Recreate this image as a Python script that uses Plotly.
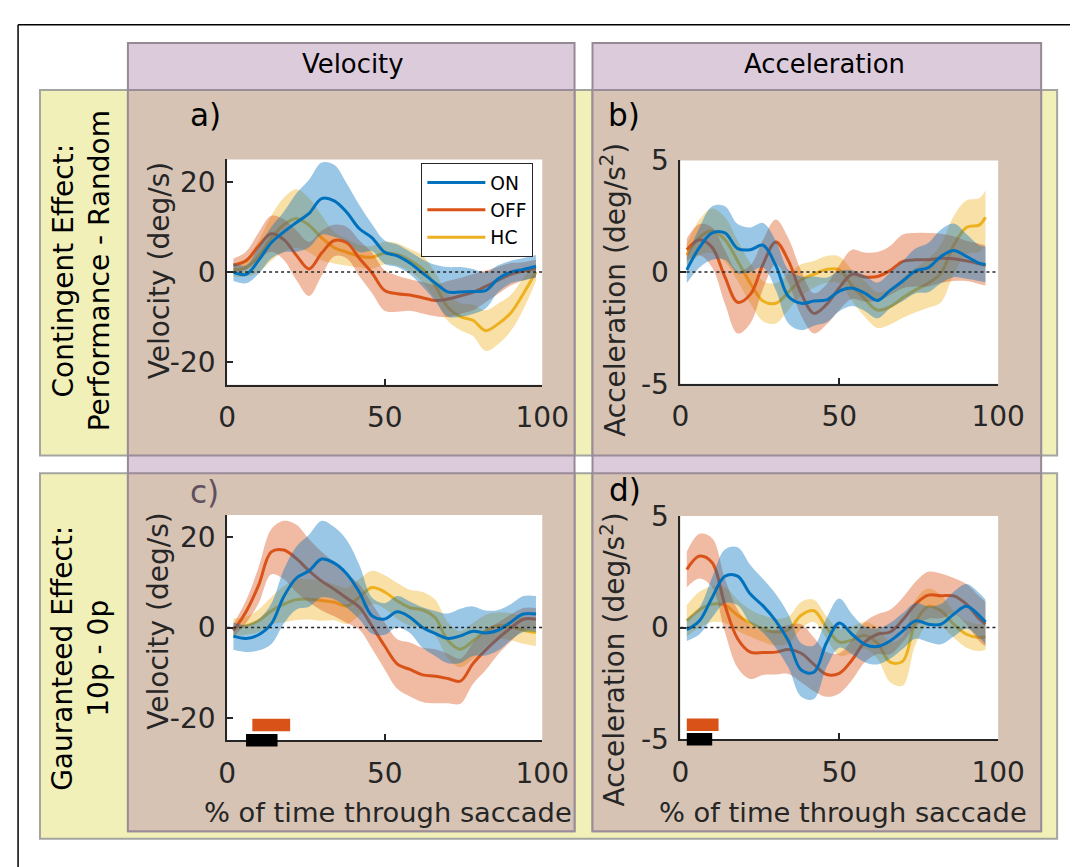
import plotly.graph_objects as go

W, H = 1078, 867
# the photographed page comes out slightly scaled and shifted, so layout positions
# below are given in picture pixels and converted back to figure pixels
SX, SY, DX, DY = 0.968, 0.961, 16, 24
FW, FH = round((W - DX) / SX), round((H - DY) / SY)
S = (SX + SY) / 2

# x positions (% of saccade) at which the curves were read
x_vel = [2, 6, 10, 14, 18, 22, 26, 30, 34, 38, 42, 46, 50, 54, 58, 62, 66, 70, 74, 78, 82, 86, 90, 94, 98]
x_acc = [2, 6, 10, 14, 18, 22, 26, 30, 34, 38, 42, 46, 50, 54, 58, 62, 66, 70, 74, 78, 82, 86, 90, 94, 96]

# a) velocity, contingent effect
a_on_mean = [0.0, -0.5, 2.6, 6.5, 8.9, 11.0, 13.0, 16.3, 15.8, 13.2, 9.6, 7.6, 4.4, 3.6, 2.0, -0.2, -2.4, -4.4, -4.4, -4.3, -4.1, -1.5, 0.0, 0.6, 1.3]
a_on_sem = [2.0, 2.0, 3.0, 3.5, 4.5, 6.5, 7.5, 8.0, 8.0, 6.4, 5.2, 3.0, 2.6, 2.5, 2.5, 3.0, 4.0, 5.5, 5.5, 5.0, 4.0, 3.0, 2.5, 2.5, 2.5]
a_off_mean = [1.5, 2.5, 5.8, 8.5, 7.2, 3.7, 0.7, 4.2, 7.0, 6.5, 3.0, -0.2, -4.1, -4.8, -5.1, -5.7, -6.3, -6.0, -5.3, -4.5, -3.2, -1.8, -0.5, 0.2, 0.8]
a_off_sem = [1.5, 2.0, 3.0, 4.0, 4.5, 5.5, 6.0, 5.0, 3.5, 3.5, 4.0, 4.5, 4.5, 4.0, 3.5, 3.5, 3.5, 4.0, 4.0, 4.0, 3.5, 3.0, 2.5, 2.0, 2.0]
a_hc_mean = [0.5, 1.0, 3.5, 7.5, 10.5, 11.9, 10.4, 7.6, 5.4, 4.4, 3.5, 3.3, 4.2, 3.9, 2.6, 0.7, -3.0, -7.8, -9.9, -10.7, -13.0, -11.5, -9.1, -4.8, 0.0]
a_hc_sem = [1.5, 2.0, 3.5, 5.0, 6.0, 6.5, 6.0, 5.0, 3.5, 3.0, 2.5, 2.5, 2.5, 2.5, 2.5, 3.0, 3.0, 3.0, 3.0, 3.5, 4.5, 4.5, 4.0, 3.5, 2.0]

# b) acceleration, contingent effect
b_on_mean = [0.1, 1.1, 1.75, 1.75, 1.05, 1.0, 1.2, 0.3, -1.1, -1.4, -1.3, -1.25, -0.85, -0.72, -0.94, -1.27, -0.82, -0.4, 0.05, 0.2, 0.7, 0.97, 0.7, 0.4, 0.34]
b_on_sem = [0.6, 0.9, 1.2, 1.2, 1.1, 1.0, 1.0, 1.1, 1.2, 1.2, 1.1, 1.0, 0.9, 0.8, 0.8, 0.8, 0.8, 0.9, 1.0, 1.1, 1.2, 1.2, 1.0, 0.8, 0.8]
b_off_mean = [1.0, 1.45, 1.1, -0.22, -1.35, -1.0, 0.35, 1.35, 0.5, -0.95, -1.85, -1.45, -0.7, -0.1, -0.22, -0.2, 0.07, 0.48, 0.55, 0.55, 0.62, 0.6, 0.5, 0.37, 0.3]
b_off_sem = [0.5, 0.7, 0.9, 1.2, 1.4, 1.3, 1.1, 1.0, 1.0, 1.0, 0.9, 0.9, 1.0, 1.1, 1.1, 1.1, 1.1, 1.2, 1.2, 1.2, 1.1, 1.0, 0.9, 0.9, 0.9]
b_hc_mean = [0.75, 1.55, 1.85, 1.45, 0.5, -0.5, -1.3, -1.4, -0.9, -0.35, -0.1, 0.12, 0.1, -0.6, -1.2, -1.7, -1.55, -1.15, -0.8, -0.5, -0.05, 1.2, 2.0, 2.1, 2.45]
b_hc_sem = [0.5, 0.8, 1.0, 1.0, 0.9, 0.9, 0.9, 0.9, 0.8, 0.7, 0.6, 0.6, 0.6, 0.7, 0.8, 0.8, 0.8, 0.9, 1.0, 1.1, 1.3, 1.3, 1.2, 1.2, 1.2]

# c) velocity, guaranteed effect
c_on_mean = [-1.9, -2.4, -1.6, 0.8, 6.9, 11.0, 12.6, 15.2, 14.3, 11.9, 7.8, 2.6, 1.9, 3.5, 2.3, 0.0, -1.3, -2.4, -1.85, -0.8, -1.2, -0.6, 1.2, 3.0, 3.0]
c_on_sem = [3.0, 3.0, 3.5, 4.5, 6.0, 7.0, 8.0, 8.5, 8.0, 7.5, 6.0, 4.0, 3.5, 3.5, 3.5, 4.5, 5.0, 5.5, 6.0, 5.5, 5.0, 4.5, 4.0, 4.0, 4.0]
c_off_mean = [-0.7, 3.5, 9.4, 16.8, 17.2, 15.3, 12.6, 10.3, 8.5, 6.5, 4.5, 0.3, -4.1, -8.1, -9.3, -10.5, -10.8, -11.3, -11.9, -8.0, -5.0, -2.4, -0.1, 1.85, 1.85]
c_off_sem = [1.5, 2.5, 4.0, 5.0, 6.5, 7.5, 7.0, 6.5, 6.0, 5.5, 5.0, 5.0, 5.2, 5.5, 6.0, 6.0, 6.0, 5.5, 5.0, 4.5, 4.5, 3.5, 3.0, 2.5, 2.5]
c_hc_mean = [0.0, 0.4, 1.5, 3.7, 5.2, 6.2, 6.3, 6.0, 5.6, 4.8, 6.8, 8.9, 7.9, 5.9, 4.4, 3.9, 2.2, -2.8, -4.8, -3.0, -0.7, 0.4, 0.2, -0.6, -1.1]
c_hc_sem = [2.0, 2.0, 2.5, 3.0, 4.0, 4.5, 4.5, 4.5, 4.0, 4.0, 4.0, 3.7, 3.7, 4.0, 4.0, 4.0, 4.0, 4.0, 4.0, 4.0, 3.5, 3.0, 3.0, 3.0, 3.0]

# d) acceleration, guaranteed effect
d_on_mean = [-0.1, 0.3, 1.35, 2.3, 2.3, 1.5, 0.97, 0.3, -0.6, -1.9, -2.0, -0.67, 0.2, -0.3, -0.75, -0.85, -0.6, -0.15, 0.3, 0.15, 0.15, 0.6, 0.95, 0.55, 0.25]
d_on_sem = [0.5, 0.6, 0.9, 1.2, 1.3, 1.3, 1.2, 1.2, 1.2, 1.2, 1.2, 1.1, 1.1, 0.9, 0.8, 0.8, 0.8, 0.8, 0.8, 0.8, 0.9, 1.0, 1.0, 1.0, 1.0]
d_off_mean = [2.6, 3.2, 2.9, 1.0, -0.5, -1.1, -1.12, -1.1, -0.98, -1.15, -1.65, -2.1, -2.05, -1.45, -0.65, -0.3, -0.2, 0.35, 1.05, 1.45, 1.42, 1.42, 1.05, 0.4, 0.15]
d_off_sem = [0.8, 1.0, 1.1, 1.2, 1.3, 1.2, 1.0, 1.0, 1.1, 1.3, 1.2, 1.0, 0.9, 0.9, 0.9, 0.9, 1.0, 1.0, 1.0, 1.05, 1.0, 0.8, 0.9, 1.0, 1.0]
d_hc_mean = [0.3, 0.8, 1.05, 1.0, 0.55, 0.2, -0.05, -0.2, -0.1, 0.55, 0.75, 0.0, -0.65, -0.55, -0.35, -0.7, -1.55, -1.5, 0.25, 0.95, 0.75, 0.15, -0.3, -0.45, -0.4]
d_hc_sem = [0.7, 0.8, 0.8, 0.8, 0.7, 0.6, 0.6, 0.6, 0.6, 0.6, 0.5, 0.5, 0.6, 0.6, 0.6, 0.7, 0.9, 1.1, 1.0, 0.8, 0.7, 0.6, 0.6, 0.6, 0.6]

# significant clusters (x start, x end) and the level they are drawn at
c_sig_off = [8, 20]
c_sig_all = [6, 16]
c_sig_levels = [-21.6, -25]
d_sig_off = [2, 12]
d_sig_all = [2, 10]
d_sig_levels = [-4.35, -5]

vel_ticks = [-20, 0, 20]
acc_ticks = [-5, 0, 5]
x_ticks = [0, 50, 100]
zero_x = [0, 100]

ON, OFF, HC = "#0072BD", "#D95319", "#EDB120"
ON_F, OFF_F, HC_F = "rgba(0,114,189,0.4)", "rgba(217,83,25,0.4)", "rgba(237,177,32,0.4)"
INK = "#262626"
FONT = "DejaVu Sans"


def px(x):
    return (x - DX) / SX / FW


def py(y):
    return 1 - (y - DY) / SY / FH


def fs(size):
    return round(size / S, 1)


fig = go.Figure()


def add_group(n, xs, mean, sem, color, fill, name, rank):
    xa, ya = ("x", "y") if n == 1 else (f"x{n}", f"y{n}")
    lower = [m - s for m, s in zip(mean, sem)]
    upper = [m + s for m, s in zip(mean, sem)]
    fig.add_trace(go.Scatter(x=xs, y=lower, mode="lines", line=dict(width=0, shape="spline"),
                             showlegend=False, hoverinfo="skip", xaxis=xa, yaxis=ya))
    fig.add_trace(go.Scatter(x=xs, y=upper, mode="lines", line=dict(width=0, shape="spline"),
                             fill="tonexty", fillcolor=fill, showlegend=False, hoverinfo="skip",
                             xaxis=xa, yaxis=ya))
    fig.add_trace(go.Scatter(x=xs, y=mean, mode="lines", name=name, legendrank=rank,
                             line=dict(color=color, width=3, shape="spline"),
                             showlegend=(n == 1), xaxis=xa, yaxis=ya))


panels = [
    (1, x_vel, (a_on_mean, a_on_sem), (a_off_mean, a_off_sem), (a_hc_mean, a_hc_sem)),
    (2, x_acc, (b_on_mean, b_on_sem), (b_off_mean, b_off_sem), (b_hc_mean, b_hc_sem)),
    (3, x_vel, (c_on_mean, c_on_sem), (c_off_mean, c_off_sem), (c_hc_mean, c_hc_sem)),
    (4, x_acc, (d_on_mean, d_on_sem), (d_off_mean, d_off_sem), (d_hc_mean, d_hc_sem)),
]
for n, xs, on, off, hc in panels:
    add_group(n, xs, *hc, HC, HC_F, "HC", 3)
    add_group(n, xs, *off, OFF, OFF_F, "OFF", 2)
    add_group(n, xs, *on, ON, ON_F, "ON", 1)
    xa, ya = ("x", "y") if n == 1 else (f"x{n}", f"y{n}")
    fig.add_trace(go.Scatter(x=zero_x, y=[0, 0], mode="lines", showlegend=False, hoverinfo="skip",
                             line=dict(color=INK, width=1.5, dash="dot"), xaxis=xa, yaxis=ya))

# significance bars live on hidden axes that reach a little below panels c and d
for n, sig_off, sig_all, levels in [(5, c_sig_off, c_sig_all, c_sig_levels),
                                    (6, d_sig_off, d_sig_all, d_sig_levels)]:
    fig.add_trace(go.Scatter(x=sig_off, y=[levels[0]] * 2, mode="lines", showlegend=False,
                             line=dict(color=OFF, width=12.5), xaxis=f"x{n}", yaxis=f"y{n}"))
    fig.add_trace(go.Scatter(x=sig_all, y=[levels[1]] * 2, mode="lines", showlegend=False,
                             line=dict(color="black", width=12.5), xaxis=f"x{n}", yaxis=f"y{n}"))

# pixel boxes of each axes: left, right, top, bottom, y range, y ticks
boxes = {
    1: (226.3, 541.7, 159.2, 384.2, [-25, 25], vel_ticks),
    2: (680, 998, 160.2, 383.2, [-5, 5], acc_ticks),
    3: (226.3, 541.7, 514.2, 739.2, [-25, 25], vel_ticks),
    4: (680, 998, 515.2, 738.2, [-5, 5], acc_ticks),
}

axis_common = dict(showline=True, linecolor=INK, linewidth=2, ticks="inside", ticklen=6,
                   tickwidth=1.5, tickcolor=INK, showgrid=False, zeroline=False,
                   tickfont=dict(family=FONT, size=fs(27), color=INK))
layout = {}
for n, (l, r, t, b, yr, yt) in boxes.items():
    xk = "xaxis" if n == 1 else f"xaxis{n}"
    yk = "yaxis" if n == 1 else f"yaxis{n}"
    layout[xk] = dict(axis_common, domain=[px(l), px(r)], range=[0, 100], anchor="y" if n == 1 else f"y{n}",
                      tickvals=x_ticks, ticktext=[str(v) for v in x_ticks], ticklabelstandoff=7)
    layout[yk] = dict(axis_common, domain=[py(b), py(t)], range=yr, anchor="x" if n == 1 else f"x{n}",
                      tickvals=yt, ticktext=[str(v) for v in yt], ticklabelstandoff=4)

extra = 14
for n, base in [(5, 3), (6, 4)]:
    l, r, t, b, yr, yt = boxes[base]
    per_px = (yr[1] - yr[0]) / (b - t)
    layout[f"xaxis{n}"] = dict(domain=[px(l), px(r)], range=[0, 100], visible=False, anchor=f"y{n}")
    layout[f"yaxis{n}"] = dict(domain=[py(b + extra), py(t)], range=[yr[0] - extra * per_px, yr[1]],
                               visible=False, anchor=f"x{n}")

fig.update_layout(**layout)

# background boxes
YEL, PUR, BRN = "#f2f0b9", "#dccbdb", "#d6c3b4"
shapes = []


def rect(x0, y0, x1, y1, fill, line, width=2):
    shapes.append(dict(type="rect", xref="paper", yref="paper", x0=px(x0), x1=px(x1), y0=py(y1), y1=py(y0),
                       fillcolor=fill, line=dict(color=line, width=width), layer="below"))


rows = [(90, 455), (472.7, 837.7)]
cols = [(127, 574), (592, 1041)]
for y0, y1 in rows:
    rect(39, y0, 1057, y1, YEL, "#a4a4a0")
for x0, x1 in cols:
    rect(x0, 43, x1, 830, PUR, "#968a95")
for y0, y1 in rows:
    for x0, x1 in cols:
        rect(x0, y0, x1, min(y1, 830), BRN, "#9a8c98")
for n in range(1, 5):
    shapes.append(dict(type="rect", xref="x domain" if n == 1 else f"x{n} domain",
                       yref="y domain" if n == 1 else f"y{n} domain", x0=0, x1=1, y0=0, y1=1,
                       fillcolor="white", line=dict(width=0), layer="below"))
# outer frame (its true place, x=7 / y=9, lies just outside the drawable page)
shapes.append(dict(type="line", xref="paper", yref="paper", x0=0.001, x1=1, y0=0.999, y1=0.999,
                   line=dict(color="black", width=1.5)))
shapes.append(dict(type="line", xref="paper", yref="paper", x0=0.001, x1=0.001, y0=0, y1=0.999,
                   line=dict(color="black", width=1.5)))


def label(text, x, y, size, angle=0, color="black"):
    return dict(text=text, x=px(x), y=py(y), xref="paper", yref="paper", showarrow=False,
                xanchor="center", yanchor="middle", textangle=angle,
                font=dict(family=FONT, size=fs(size), color=color))


annotations = [
    label("Velocity", 352, 64, 25),
    label("Acceleration", 824, 64, 25),
    label("Contingent Effect:<br>Performance - Random", 80, 270, 27, -90),
    label("Gauranteed Effect:<br>10p - 0p", 80, 657, 27, -90),
    label("a)", 205, 115, 30),
    label("b)", 624, 115, 30),
    label("c)", 204, 491, 30, color="#5f505f"),
    label("d)", 625, 489, 30),
    label("Velocity (deg/s)", 158, 270, 27, -90, INK),
    label("Velocity (deg/s)", 158, 620, 27, -90, INK),
    label("Acceleration (deg/s<sup>2</sup>)", 613, 289, 27, -90, INK),
    label("Acceleration (deg/s<sup>2</sup>)", 613, 658, 27, -90, INK),
    label("% of time through saccade", 387, 811, 26.3, 0, INK),
    label("% of time through saccade", 843, 811, 26.3, 0, INK),
]

fig.update_layout(
    width=FW, height=FH, autosize=False,
    margin=dict(l=0, r=0, t=0, b=0, pad=0),
    paper_bgcolor="white", plot_bgcolor="rgba(0,0,0,0)",
    font=dict(family=FONT, color=INK),
    shapes=shapes, annotations=annotations,
    legend=dict(x=px(420.7), y=py(162.7), xanchor="left", yanchor="top", bgcolor="white",
                bordercolor=INK, borderwidth=1, font=dict(family=FONT, size=fs(18), color="black"),
                itemwidth=58, tracegroupgap=0, traceorder="normal"),
    showlegend=True,
)

fig.write_html("out.html")
